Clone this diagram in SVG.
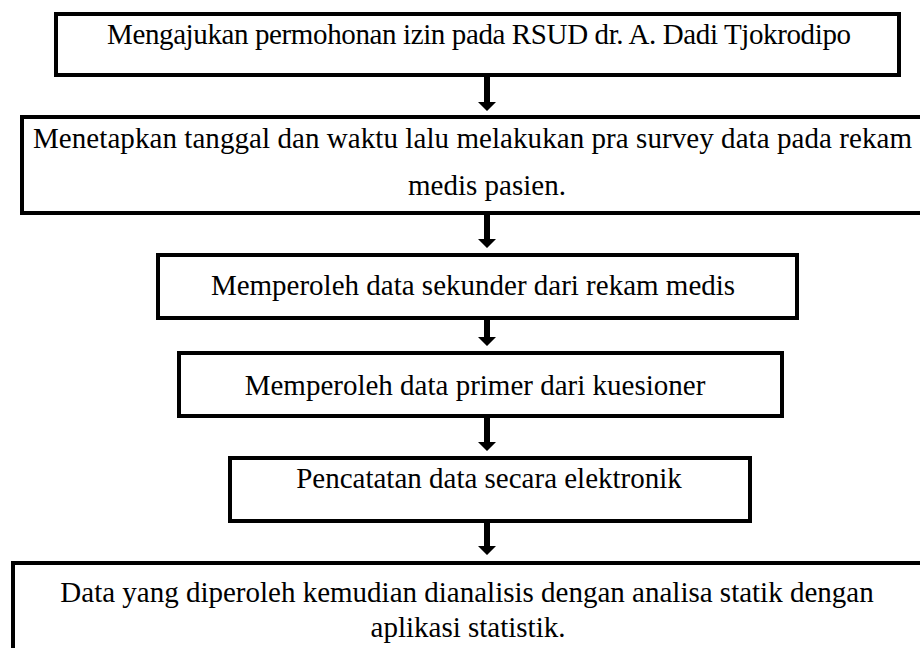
<svg xmlns="http://www.w3.org/2000/svg" width="920" height="648" viewBox="0 0 920 648">
<style>
.box{fill:#fff;stroke:#000;stroke-width:4}
.t{font-size:29px;fill:#000}
.arr{fill:#000}
</style>
<rect width="920" height="648" fill="#fff"/>
<g font-family="Liberation Serif, DejaVu Serif, serif">
<g id="node1">
<rect class="box" x="56" y="14" width="843" height="61"/>
<text class="t" x="107" y="44" textLength="744" lengthAdjust="spacing">Mengajukan permohonan izin pada RSUD dr. A. Dadi Tjokrodipo</text>
</g>
<g id="node2">
<rect class="box" x="22" y="117" width="910" height="96"/>
<text class="t" x="33" y="148" textLength="879" lengthAdjust="spacing">Menetapkan tanggal dan waktu lalu melakukan pra survey data pada rekam</text>
<text class="t" x="487" y="195" text-anchor="middle">medis pasien.</text>
</g>
<g id="node3">
<rect class="box" x="158" y="255" width="639" height="63"/>
<text class="t" x="473" y="295" text-anchor="middle">Memperoleh data sekunder dari rekam medis</text>
</g>
<g id="node4">
<rect class="box" x="179" y="353" width="603" height="63"/>
<text class="t" x="475" y="395" text-anchor="middle">Memperoleh data primer dari kuesioner</text>
</g>
<g id="node5">
<rect class="box" x="230" y="458" width="520" height="63"/>
<text class="t" x="489" y="488" text-anchor="middle">Pencatatan data secara elektronik</text>
</g>
<g id="node6">
<rect class="box" x="13" y="563" width="920" height="100"/>
<text class="t" x="467" y="602" text-anchor="middle">Data yang diperoleh kemudian dianalisis dengan analisa statik dengan</text>
<text class="t" x="468" y="637" text-anchor="middle">aplikasi statistik.</text>
</g>
</g>
<g id="connectors">
<path class="arr" d="M484 75 H490 V102 H496 L487 111 L478 102 H484 Z"/>
<path class="arr" d="M484 215 H490 V239 H496 L487 248 L478 239 H484 Z"/>
<path class="arr" d="M484 320 H490 V337 H496 L487 346 L478 337 H484 Z"/>
<path class="arr" d="M484 418 H490 V442 H496 L487 451 L478 442 H484 Z"/>
<path class="arr" d="M484 523 H490 V546 H496 L487 555 L478 546 H484 Z"/>
</g>
</svg>
